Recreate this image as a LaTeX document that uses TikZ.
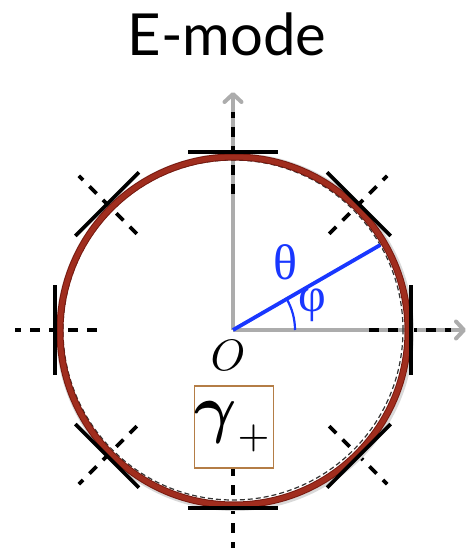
\documentclass[tikz,border=0pt]{standalone}
\usepackage{amsmath}
\usepackage{fontspec}
\newfontfamily\titlefont{Lato}
\newfontfamily\grkfont{Liberation Serif}
\usepackage{graphicx}
\usepackage{xcolor}
\usepackage{tikz}
\usetikzlibrary{arrows.meta}

\definecolor{ringred}{RGB}{160,45,30}
\definecolor{ringdark}{RGB}{120,25,15}
\definecolor{axisgray}{RGB}{172,172,172}
\definecolor{angblue}{RGB}{25,55,255}
\definecolor{boxbrown}{RGB}{180,125,70}

\begin{document}
\begin{tikzpicture}[x=1pt,y=1pt,line cap=butt,
    axis/.style={axisgray,line width=4pt,-{Straight Barb[length=8pt,width=17pt,round]}},
    radial/.style={black,line width=3.6pt,dash pattern=on 10pt off 9pt},
    tangent/.style={black,line width=3.6pt},
    gbox/.style={draw=boxbrown,line width=1.3pt,minimum width=76pt,minimum height=82pt,inner sep=0pt}]
    \useasboundingbox (-233,-225) rectangle (240,330);
    \coordinate (O) at (0,0);
    \coordinate (xend) at (233,0);
    \coordinate (yend) at (0,238);
    \coordinate (tip) at (30:170);

    % axes
    \draw[axis] (O) -- (xend);
    \draw[axis] (O) -- (yend);

    % radial dashed lines
    \foreach \a in {0,45,...,315}
        \draw[radial,rotate=\a] (136,0) -- (218,0);

    % ring
    \draw[black!80,line width=1.2pt,dash pattern=on 5pt off 3pt] (O) circle (170);
    \draw[black!15,line width=3pt] (2,-2) circle (177.5);
    \draw[ringdark,line width=7pt] (1,-1) circle (174);
    \draw[ringred,line width=5pt] (1,-1) circle (174);

    % tangent bars
    \foreach \a in {0,45,...,315}
        \draw[tangent,rotate=\a] (178,-45) -- (178,45);

    % angle
    \draw[angblue,line width=3.8pt] (O) -- (tip);
    \draw[angblue,line width=2.2pt] (62,0) arc (0:30:62);

    \node[angblue,font=\grkfont\fontsize{50}{50}\selectfont] (theta) at (52,68) {θ};
    \node[angblue,font=\grkfont\fontsize{48}{48}\selectfont] (phi) at (79,25) {φ};
    \node[scale=4.4] (olabel) at (-5,-25) {$O$};
    \node[gbox,fill=white] (gam) at (1,-97) {\scalebox{6.5}{$\boldsymbol{\gamma}_{\scriptscriptstyle+}$}};
    \node[font=\titlefont\fontsize{58}{58}\selectfont] (title) at (-6,296) {E-mode};
\end{tikzpicture}
\end{document}
